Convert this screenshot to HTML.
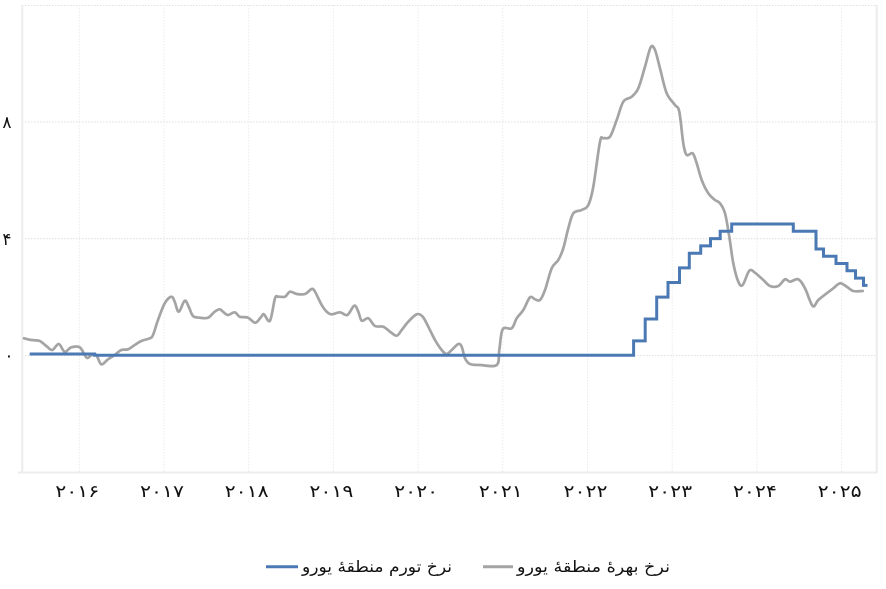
<!DOCTYPE html>
<html>
<head>
<meta charset="utf-8">
<style>
html,body{margin:0;padding:0;background:#fff;}
svg{display:block;}
text{font-family:"DejaVu Sans","Liberation Serif",serif;fill:#111;}
</style>
</head>
<body>
<svg width="886" height="589" viewBox="0 0 886 589" xmlns="http://www.w3.org/2000/svg">
  <rect x="0" y="0" width="886" height="589" fill="#fff"/>
  <!-- horizontal dotted gridlines -->
  <g stroke="#e0e0e0" stroke-width="1.1" stroke-dasharray="1.5 1.5" fill="none">
    <line x1="22" y1="5.5" x2="877" y2="5.5"/>
    <line x1="22" y1="121.9" x2="877" y2="121.9"/>
    <line x1="22" y1="238.7" x2="877" y2="238.7"/>
    <line x1="22" y1="355.5" x2="877" y2="355.5"/>
  </g>
  <!-- vertical dotted gridlines -->
  <g stroke="#ebebeb" stroke-width="1" stroke-dasharray="1.5 1.5" fill="none">
    <line x1="79.3" y1="5" x2="79.3" y2="472"/>
    <line x1="164" y1="5" x2="164" y2="472"/>
    <line x1="248.7" y1="5" x2="248.7" y2="472"/>
    <line x1="333.4" y1="5" x2="333.4" y2="472"/>
    <line x1="418.1" y1="5" x2="418.1" y2="472"/>
    <line x1="502.8" y1="5" x2="502.8" y2="472"/>
    <line x1="587.5" y1="5" x2="587.5" y2="472"/>
    <line x1="672.2" y1="5" x2="672.2" y2="472"/>
    <line x1="756.9" y1="5" x2="756.9" y2="472"/>
    <line x1="841.6" y1="5" x2="841.6" y2="472"/>
  </g>
  <!-- frame -->
  <g stroke="#ececec" stroke-width="2" fill="none">
    <line x1="22.3" y1="5" x2="22.3" y2="472.5"/>
    <line x1="876.8" y1="5" x2="876.8" y2="472.5"/>
    <line x1="18" y1="472.5" x2="877.8" y2="472.5"/>
  </g>

  <!-- y labels -->
  <g font-size="17" text-anchor="middle">
    <text x="7" y="128">۸</text>
    <text x="7" y="245">۴</text>
    <text x="9" y="361">۰</text>
  </g>

  <!-- x labels -->
  <g font-size="17" text-anchor="middle">
    <text x="77.3" y="497" textLength="44" lengthAdjust="spacingAndGlyphs">۲۰۱۶</text>
    <text x="162" y="497" textLength="44" lengthAdjust="spacingAndGlyphs">۲۰۱۷</text>
    <text x="246.7" y="497" textLength="44" lengthAdjust="spacingAndGlyphs">۲۰۱۸</text>
    <text x="331.4" y="497" textLength="44" lengthAdjust="spacingAndGlyphs">۲۰۱۹</text>
    <text x="416.1" y="497" textLength="44" lengthAdjust="spacingAndGlyphs">۲۰۲۰</text>
    <text x="500.8" y="497" textLength="44" lengthAdjust="spacingAndGlyphs">۲۰۲۱</text>
    <text x="585.5" y="497" textLength="44" lengthAdjust="spacingAndGlyphs">۲۰۲۲</text>
    <text x="670.2" y="497" textLength="44" lengthAdjust="spacingAndGlyphs">۲۰۲۳</text>
    <text x="754.9" y="497" textLength="44" lengthAdjust="spacingAndGlyphs">۲۰۲۴</text>
    <text x="839.6" y="497" textLength="44" lengthAdjust="spacingAndGlyphs">۲۰۲۵</text>
  </g>

  <!-- gray series -->
  <polyline id="gray" fill="none" stroke="#a4a4a4" stroke-width="2.7" stroke-linejoin="round" stroke-linecap="round"
    points="24,338.3 31.3,340 39.7,341 46.3,346 52.3,350 58.7,344 64.7,351.7 71.3,347.3 79.7,347.3 84.7,355 87.3,358 92,355 96.3,355 101.3,364.3 108,359.3 114.7,355 121.3,350 128,349.3 134.7,345 141.3,341 149.7,338.3 153,335 158,320 164.7,303.3 171.3,296.7 174.7,301.7 178.7,311.7 184.7,300.7 188.7,306.7 193,316 199.7,317.7 208,317.7 214.7,311.7 219.7,309.3 223,311.7 228,315 234.7,312.3 239.7,316.7 248,317.7 255.3,322.7 261.3,316.7 264,314.3 270,320.7 275,298.3 278.3,296.7 285,296.7 290,291.7 296.7,294 305,294 311.7,289 315,291.7 321.7,305 326.7,311.7 331.7,314.3 340,312.3 347.3,315 354.3,305.7 358.3,311.7 361.7,320.7 368.3,318.3 375,326 383.3,326.7 390,331.7 396.7,335.7 401.7,330 408.3,321.7 416.7,314.3 422.7,316.7 428.3,326.7 435,340 441.7,350 446.7,354 451.7,350 458.3,344 461.7,346.7 465,358.3 470,364 480,365 496.7,365 499.3,350 502.7,329.3 511.7,328.3 516.7,318.3 523.3,310 530,297.3 535,299.3 540,300 545,290 551.7,268.3 558.3,260 563.3,248.3 568.3,228.3 573.3,213.3 581.7,210 588.3,205 593.3,186.7 600,141.7 603.3,138.3 610,136.7 616.7,120 623.3,101.7 631.7,96.7 638.3,88.3 645,66.7 650.7,47.3 655,50 660,68.3 666.7,93.3 675,105 679.3,111.7 683.3,143.3 686.7,155 692.7,153.3 696.7,163.3 701.7,180 708.3,193.3 715,200 720,203.3 725,213.3 729.3,236.7 733.3,263.3 738.3,281.7 742.7,285 749.3,270.7 755,272.7 763.3,280 770,286 778.3,286 785,279.3 790,281.7 798.3,279.3 805,288.3 812.7,306 818.3,300 826.7,293.3 833.3,288.3 840,283.3 846.7,286.7 853.3,291 862.7,291"/>

  <!-- blue series (step) -->
  <polyline fill="none" stroke="#4b79b3" stroke-width="3" stroke-linejoin="miter"
    points="29.7,354 94.6,354 94.6,355.3 633.6,355.3 633.6,340.9 645.2,340.9 645.2,319 656.7,319 656.7,297.1 668,297.1 668,282.5 679.5,282.5 679.5,267.9 689.3,267.9 689.3,253.3 700.7,253.3 700.7,245.9 710.5,245.9 710.5,238.6 720.2,238.6 720.2,231.3 731.7,231.3 731.7,224 793.3,224 793.3,231.3 816,231.3 816,249 823.5,249 823.5,256.2 836,256.2 836,263.5 847,263.5 847,270.8 855.5,270.8 855.5,278.1 863.5,278.1 863.5,285.4 867.5,285.4"/>

  <!-- legend -->
  <line x1="266" y1="566.7" x2="298" y2="566.7" stroke="#4b79b3" stroke-width="3"/>
  <text x="302" y="572" font-size="16" textLength="150" lengthAdjust="spacingAndGlyphs" direction="rtl" text-anchor="end">نرخ تورم منطقهٔ یورو</text>
  <line x1="483" y1="566.7" x2="513" y2="566.7" stroke="#a4a4a4" stroke-width="3"/>
  <text x="517" y="572" font-size="16" textLength="153" lengthAdjust="spacingAndGlyphs" direction="rtl" text-anchor="end">نرخ بهرهٔ منطقهٔ یورو</text>
</svg>
<script>
(function(){
  var pl=document.getElementById('gray');
  if(!pl)return;
  var raw=pl.getAttribute('points').trim().split(/\s+/).map(function(p){var a=p.split(',');return [parseFloat(a[0]),parseFloat(a[1])];});
  var t=0.5/3*1.0;
  var d='M'+raw[0][0]+','+raw[0][1];
  for(var i=0;i<raw.length-1;i++){
    var p0=raw[i-1]||raw[i],p1=raw[i],p2=raw[i+1],p3=raw[i+2]||p2;
    var c1x=p1[0]+(p2[0]-p0[0])*t*2/2, c1y=p1[1]+(p2[1]-p0[1])*t*2/2;
    var c2x=p2[0]-(p3[0]-p1[0])*t*2/2, c2y=p2[1]-(p3[1]-p1[1])*t*2/2;
    d+=' C'+c1x.toFixed(2)+','+c1y.toFixed(2)+' '+c2x.toFixed(2)+','+c2y.toFixed(2)+' '+p2[0]+','+p2[1];
  }
  var ns='http://www.w3.org/2000/svg';
  var path=document.createElementNS(ns,'path');
  path.setAttribute('d',d);
  path.setAttribute('fill','none');
  path.setAttribute('stroke','#a4a4a4');
  path.setAttribute('stroke-width','2.7');
  path.setAttribute('stroke-linejoin','round');
  path.setAttribute('stroke-linecap','round');
  pl.parentNode.insertBefore(path,pl);
  pl.parentNode.removeChild(pl);
})();
</script>
</body>
</html>
